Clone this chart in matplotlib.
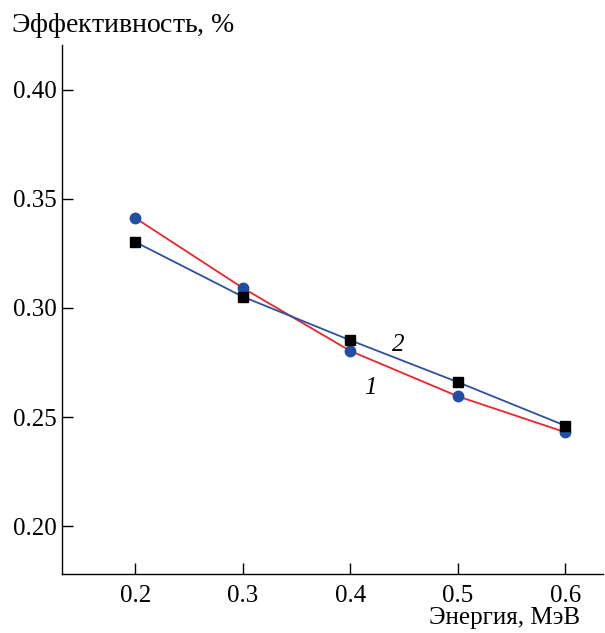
import matplotlib
matplotlib.use("Agg")
import matplotlib.pyplot as plt

energy = [0.2, 0.3, 0.4, 0.5, 0.6]
eff1 = [0.3413, 0.3092, 0.2803, 0.2595, 0.2430]
eff2 = [0.3303, 0.3052, 0.2852, 0.2660, 0.2460]
xticks = [0.2, 0.3, 0.4, 0.5, 0.6]
yticks = [0.20, 0.25, 0.30, 0.35, 0.40]

plt.rcParams['font.family'] = ['Liberation Serif', 'DejaVu Serif']
plt.rcParams['mathtext.fontset'] = 'custom'
plt.rcParams['mathtext.rm'] = 'Liberation Serif'
plt.rcParams['mathtext.it'] = 'Liberation Serif:italic'

fig = plt.figure(figsize=(6.05, 6.33), dpi=100)
ax = fig.add_axes([62/605, 1 - 574/633, (603-62)/605, (574-45)/633])

ax.plot(energy, eff1, color='#e8262c', lw=1.3, zorder=2)
ax.plot(energy, eff2, color='#2d50a0', lw=1.3, zorder=2)
ax.plot(energy, eff1, 'o', color='#1f4ea3', ms=7.5, zorder=3)
ax.plot(energy, eff2, 's', color='black', ms=7.5, zorder=4)

ax.set_xlim(0.132, 0.635)
ax.set_ylim(0.178, 0.4206)
ax.set_xticks(xticks)
ax.set_xticklabels([f"{v:.1f}" for v in xticks])
ax.set_yticks(yticks)
ax.set_yticklabels([f"{v:.2f}" for v in yticks])
for s in ['top', 'right']:
    ax.spines[s].set_visible(False)
for s in ['left', 'bottom']:
    ax.spines[s].set_linewidth(1.0)
ax.tick_params(direction='in', length=8, width=1.0, labelsize=18, pad=8)
ax.tick_params(axis='y', pad=4)

ax.text(0.4186, 0.2633, '1', fontsize=18, style='italic', ha='center', va='center')
ax.text(0.4447, 0.2830, '2', fontsize=18, style='italic', ha='center', va='center')

fig.text(11/605, 1 - 25/633, 'Эффективность, $\\it{\\%}$', fontsize=20, ha='left', va='center')
fig.text(580/605, 1 - 618/633, 'Энергия, МэВ', fontsize=18, ha='right', va='center')

fig.savefig('out.png', dpi=100)
